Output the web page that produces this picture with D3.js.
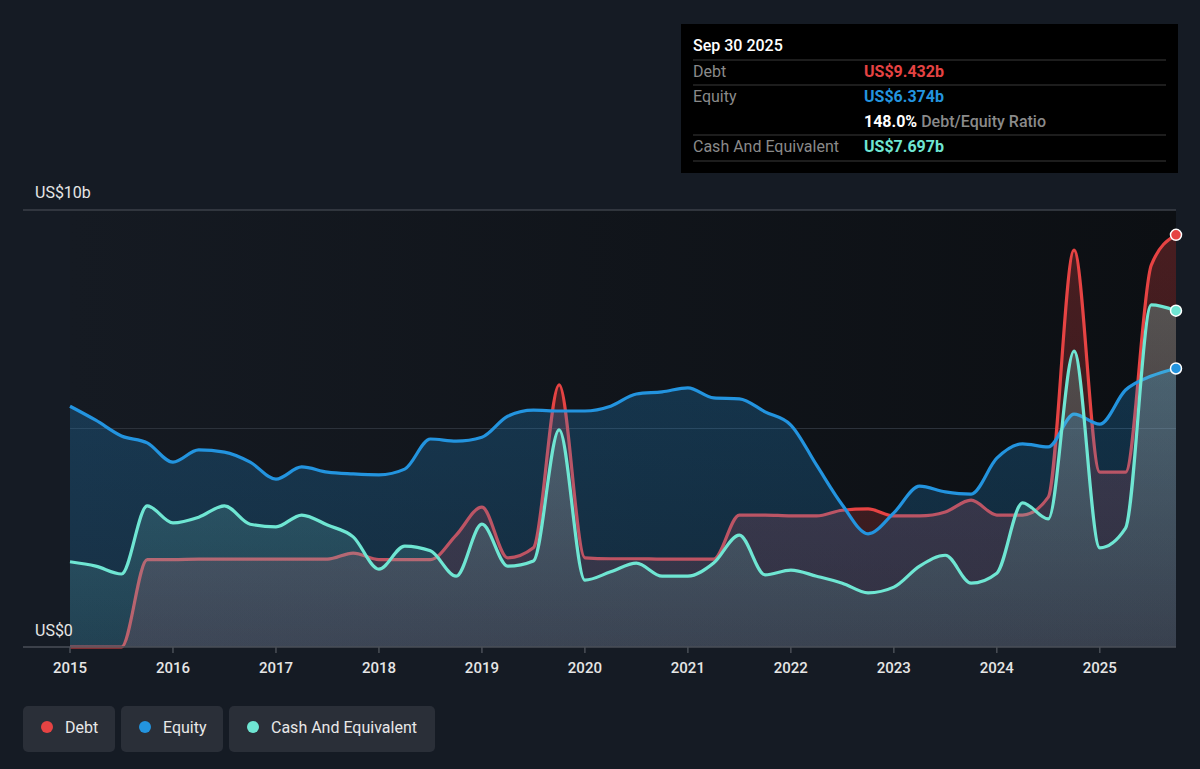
<!DOCTYPE html>
<html>
<head>
<meta charset="utf-8">
<script src="https://cdn.jsdelivr.net/npm/d3@7"></script>
<style>
  body { margin: 0; background: #151b24; font-family: Roboto, "Noto Sans", sans-serif; }
  svg { display: block; }
</style>
</head>
<body>
<svg id="chart" width="1200" height="769"></svg>
<script>
// quarterly points, 2015 Q1 .. Sep 30 2025 (values in US$ billions)
let dates = [2015.0,2015.25,2015.5,2015.75,2016.0,2016.25,2016.5,2016.75,2017.0,2017.25,2017.5,2017.75,
  2018.0,2018.25,2018.5,2018.75,2019.0,2019.25,2019.5,2019.75,2020.0,2020.25,2020.5,2020.75,
  2021.0,2021.25,2021.5,2021.75,2022.0,2022.25,2022.5,2022.75,2023.0,2023.25,2023.5,2023.75,
  2024.0,2024.25,2024.5,2024.75,2025.0,2025.25,2025.5,2025.74];
let debt = [0,0,0,2.0,2.0,2.01,2.01,2.01,2.01,2.01,2.01,2.15,
  2.0,2.0,2.0,2.56,3.2,2.04,2.27,6.0,2.04,2.02,2.02,2.01,
  2.01,2.01,3.02,3.02,3.0,3.0,3.13,3.16,3.0,3.0,3.09,3.36,
  3.02,3.02,3.43,9.08,4.0,4.0,8.74,9.432];
let equity = [5.51,5.19,4.83,4.67,4.23,4.51,4.46,4.23,3.84,4.12,4.0,3.96,
  3.94,4.07,4.76,4.71,4.8,5.28,5.42,5.4,5.4,5.51,5.79,5.84,
  5.93,5.7,5.68,5.38,5.08,4.16,3.25,2.59,3.07,3.68,3.55,3.5,
  4.32,4.65,4.58,5.33,5.1,5.88,6.2,6.374];
let cash = [1.95,1.85,1.67,3.23,2.84,2.97,3.23,2.81,2.75,3.02,2.79,2.52,
  1.78,2.31,2.2,1.62,2.81,1.85,1.97,4.97,1.53,1.72,1.92,1.62,
  1.62,1.92,2.56,1.65,1.76,1.62,1.46,1.24,1.37,1.85,2.1,1.46,
  1.69,3.3,2.93,6.77,2.27,2.72,7.83,7.697];
let yearTicks = [2015,2016,2017,2018,2019,2020,2021,2022,2023,2024,2025];
let seriesNames = ['Debt','Equity','Cash And Equivalent'];
let seriesColors = ['#e64343','#2394df','#6fe6d3'];

let margin = {top: 210, bottom: 122, left: 70, right: 24};
let svgWidth = 1200, svgHeight = 769;
let width = svgWidth - margin.left - margin.right;
let height = svgHeight - margin.top - margin.bottom;

let xScale = d3.scaleLinear().domain([2015, 2025.74]).range([0, width]);
let yScale = d3.scaleLinear().domain([0, 10]).range([height, 0]);

let svg = d3.select('#chart');
let defs = svg.append('defs');

let bg = defs.append('linearGradient').attr('id','bg').attr('x1',0).attr('x2',1).attr('y1',0).attr('y2',0);
bg.append('stop').attr('offset','0%').attr('stop-color','#151a22');
bg.append('stop').attr('offset','100%').attr('stop-color','#0c0f13');

function fillGrad(id, color, top, bottom){
  let g = defs.append('linearGradient').attr('id',id).attr('gradientUnits','userSpaceOnUse')
    .attr('x1',0).attr('x2',0).attr('y1',0).attr('y2',height);
  g.append('stop').attr('offset','0%').attr('stop-color',color).attr('stop-opacity',top);
  g.append('stop').attr('offset','100%').attr('stop-color',color).attr('stop-opacity',bottom);
}
fillGrad('fDebt', '#e64343', 0.28, 0.18);
fillGrad('fEquity', '#2394df', 0.3, 0.18);
fillGrad('fCash', '#7fe0d6', 0.32, 0.1);

let g = svg.append('g').attr('transform',`translate(${margin.left},${margin.top})`);

g.append('rect').attr('x',0).attr('y',0).attr('width',width).attr('height',height).attr('fill','url(#bg)');

// gridlines
g.append('line').attr('x1',-47).attr('x2',width).attr('y1',yScale(10)).attr('y2',yScale(10))
  .attr('stroke','#3b4049').attr('stroke-width',1.5);
g.append('line').attr('x1',0).attr('x2',width).attr('y1',yScale(5)).attr('y2',yScale(5))
  .attr('stroke','#2c323b').attr('stroke-width',1);

function drawSeries(values, color, fillId){
  let pts = dates.map((d,i)=>[d, values[i]]);
  let area = d3.area().x(d=>xScale(d[0])).y0(yScale(0)).y1(d=>yScale(d[1])).curve(d3.curveMonotoneX);
  let line = d3.line().x(d=>xScale(d[0])).y(d=>yScale(d[1])).curve(d3.curveMonotoneX);
  g.append('path').datum(pts).attr('d',area).attr('fill',`url(#${fillId})`);
  g.append('path').datum(pts).attr('d',line).attr('fill','none')
    .attr('stroke',color).attr('stroke-width',3.2).attr('stroke-linejoin','round');
}
drawSeries(debt, seriesColors[0], 'fDebt');
drawSeries(equity, seriesColors[1], 'fEquity');
drawSeries(cash, seriesColors[2], 'fCash');

[debt, equity, cash].forEach((v,i)=>{
  g.append('circle').attr('cx',xScale(dates[dates.length-1])).attr('cy',yScale(v[v.length-1]))
    .attr('r',5.5).attr('fill',seriesColors[i]).attr('stroke','#fff').attr('stroke-width',1.5);
});

// x axis
g.append('line').attr('x1',-47).attr('x2',width).attr('y1',height).attr('y2',height)
  .attr('stroke','#4a4f57').attr('stroke-width',1.5);
let axis = g.append('g');
axis.selectAll('line').data(yearTicks).enter().append('line')
  .attr('x1',d=>xScale(d)).attr('x2',d=>xScale(d)).attr('y1',height).attr('y2',height+6)
  .attr('stroke','#4a4f57').attr('stroke-width',1.5);
axis.selectAll('text').data(yearTicks).enter().append('text')
  .attr('x',d=>xScale(d)).attr('y',height+26).attr('text-anchor','middle')
  .attr('fill','#e6e6e6').attr('font-size',15).attr('font-weight',500).text(d=>d);

// y labels
g.append('text').attr('x',-35).attr('y',yScale(10)-12).attr('fill','#e6e6e6').attr('font-size',16).text('US$10b');
g.append('text').attr('x',-35).attr('y',yScale(0)-11).attr('fill','#e6e6e6').attr('font-size',16).text('US$0');

// tooltip box
let tip = svg.append('g').attr('transform','translate(681,24)');
tip.append('rect').attr('width',497).attr('height',149).attr('fill','#000');
tip.append('text').attr('x',12).attr('y',27).attr('fill','#fff').attr('font-size',16).attr('font-weight',500).text('Sep 30 2025');
[36,61,111,137].forEach(y=>{
  tip.append('line').attr('x1',12).attr('x2',485).attr('y1',y).attr('y2',y).attr('stroke','#3a3a3a').attr('stroke-width',1);
});
let rows = [
  {label:'Debt', value:'US$9.432b', color:seriesColors[0], y:53},
  {label:'Equity', value:'US$6.374b', color:seriesColors[1], y:78},
  {label:'Cash And Equivalent', value:'US$7.697b', color:seriesColors[2], y:128}
];
rows.forEach(r=>{
  tip.append('text').attr('x',12).attr('y',r.y).attr('fill','#8a8a8a').attr('font-size',16).text(r.label);
  tip.append('text').attr('x',183).attr('y',r.y).attr('fill',r.color).attr('font-size',16).attr('font-weight',700).text(r.value);
});
let ratio = tip.append('text').attr('x',183).attr('y',103).attr('font-size',16);
ratio.append('tspan').attr('fill','#fff').attr('font-weight',700).text('148.0%');
ratio.append('tspan').attr('fill','#8a8a8a').attr('font-weight',500).text(' Debt/Equity Ratio');

// legend
let legendX = [23,121,229], legendW = [92,102,206];
let legend = svg.append('g').attr('transform','translate(0,706)');
seriesNames.forEach((n,i)=>{
  let item = legend.append('g').attr('transform',`translate(${legendX[i]},0)`);
  item.append('rect').attr('width',legendW[i]).attr('height',46).attr('rx',5).attr('fill','#2a2f38');
  item.append('circle').attr('cx',24).attr('cy',21).attr('r',6).attr('fill',seriesColors[i]);
  item.append('text').attr('x',42).attr('y',26.5).attr('fill','#e8e8e8').attr('font-size',16).text(n);
});
</script>
</body>
</html>
